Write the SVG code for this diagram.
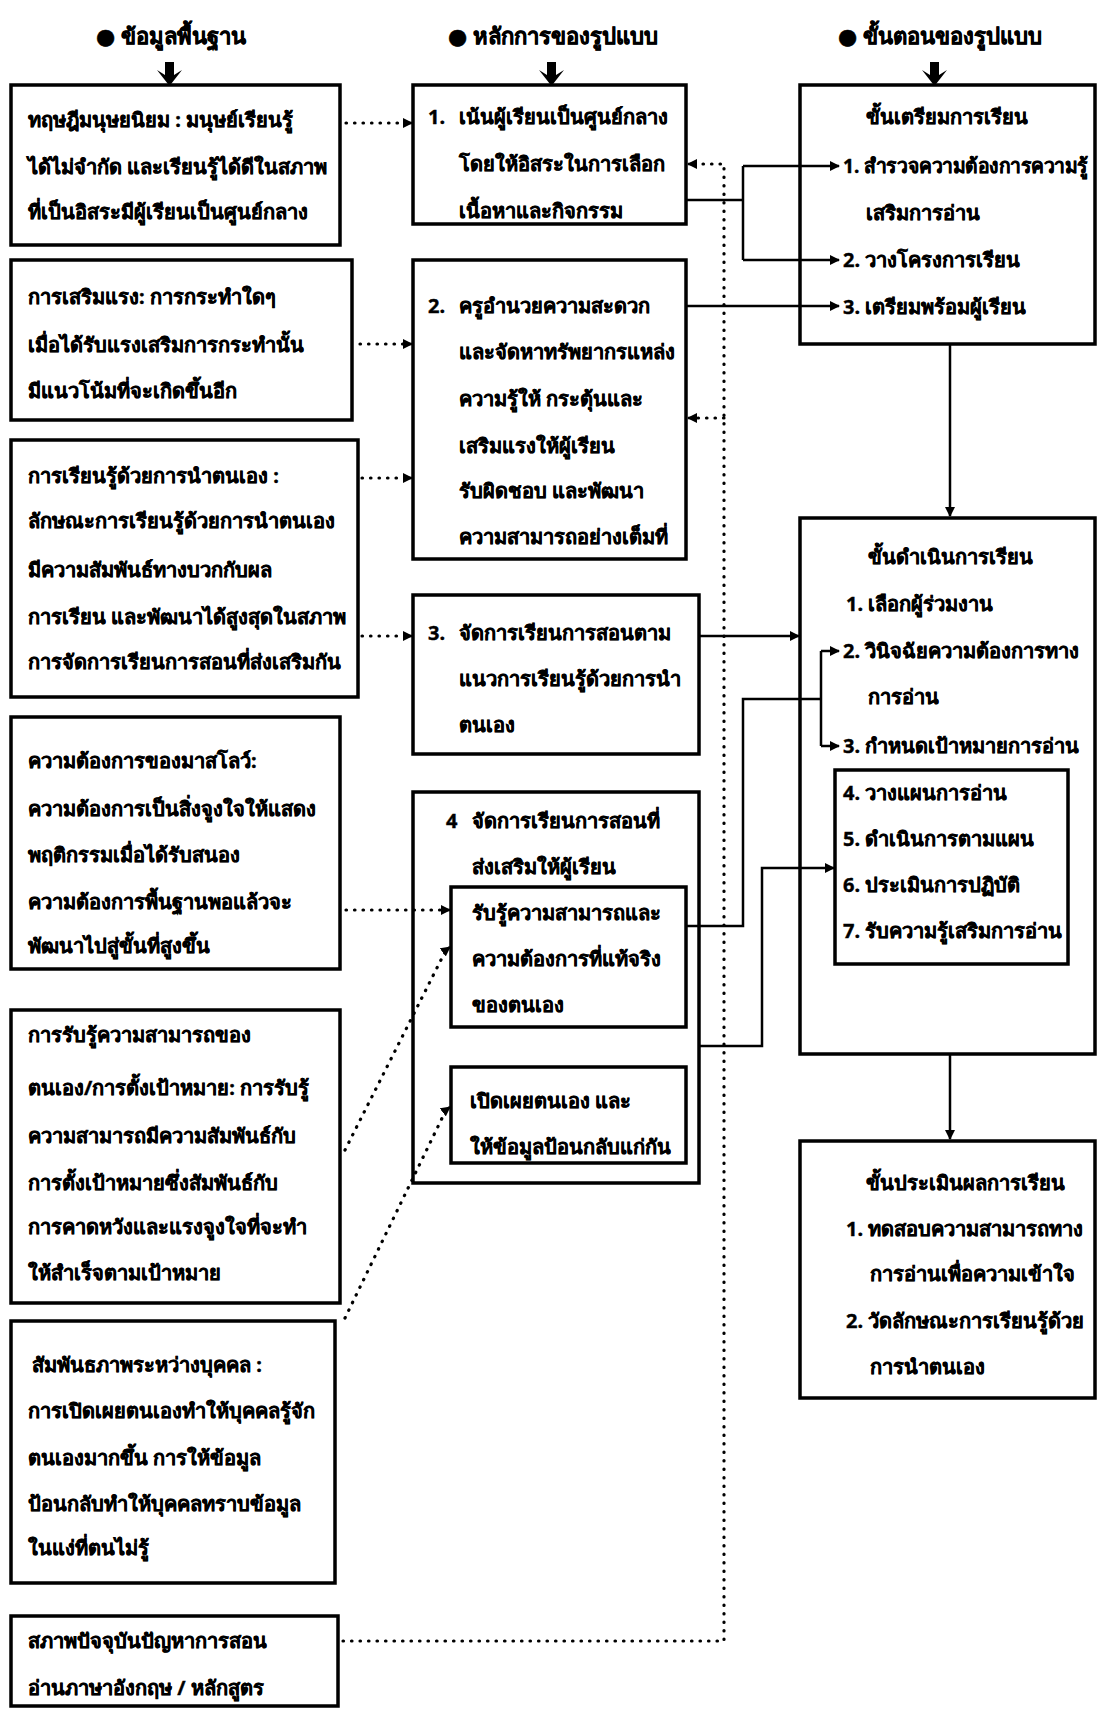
<svg xmlns="http://www.w3.org/2000/svg" width="1115" height="1712" viewBox="0 0 1115 1712">
<style>
.box{fill:none;stroke:#000;stroke-width:3.5}
.t{font-family:"Noto Sans","DejaVu Sans",sans-serif;font-weight:bold;font-size:20px;fill:#000;stroke:#000;stroke-width:0.4}
.h{font-family:"Noto Sans","DejaVu Sans",sans-serif;font-weight:bold;font-size:22px;fill:#000;stroke:#000;stroke-width:0.5;text-anchor:middle}
.c{text-anchor:middle}
.dot{fill:none;stroke:#000;stroke-width:3.2;stroke-dasharray:0.5 8;stroke-linecap:round}
.sol{fill:none;stroke:#000;stroke-width:2.5}
.big{fill:#000}
</style>
<defs>
<marker id="ah" viewBox="0 0 10 10" refX="9" refY="5" markerWidth="10" markerHeight="10" markerUnits="userSpaceOnUse" orient="auto">
<path d="M0,0 L10,5 L0,10 z" fill="#000"/>
</marker>
</defs>
<rect width="1115" height="1712" fill="#fff"/>

<g id="headers">
<text class="h" x="171" y="44">● ข้อมูลพื้นฐาน</text>
<text class="h" x="553" y="44">● หลักการของรูปแบบ</text>
<text class="h" x="940" y="44">● ขั้นตอนของรูปแบบ</text>
<path class="big" d="M165,62 h9 v13 l8,-5 l-12.5,16 l-12.5,-16 l8,5 z"/>
<path class="big" d="M547,62 h9 v13 l8,-5 l-12.5,16 l-12.5,-16 l8,5 z"/>
<path class="big" d="M930,62 h9 v13 l8,-5 l-12.5,16 l-12.5,-16 l8,5 z"/>
</g>

<g id="L1">
<rect class="box" x="11" y="85" width="329" height="160"/>
<text class="t" x="28" y="127">ทฤษฎีมนุษยนิยม : มนุษย์เรียนรู้</text>
<text class="t" x="28" y="174">ได้ไม่จำกัด และเรียนรู้ได้ดีในสภาพ</text>
<text class="t" x="28" y="219">ที่เป็นอิสระมีผู้เรียนเป็นศูนย์กลาง</text>
</g>
<g id="L2">
<rect class="box" x="11" y="260" width="341" height="160"/>
<text class="t" x="28" y="304">การเสริมแรง: การกระทำใดๆ</text>
<text class="t" x="28" y="352">เมื่อได้รับแรงเสริมการกระทำนั้น</text>
<text class="t" x="28" y="398">มีแนวโน้มที่จะเกิดขึ้นอีก</text>
</g>
<g id="L3">
<rect class="box" x="11" y="440" width="347" height="257"/>
<text class="t" x="28" y="483">การเรียนรู้ด้วยการนำตนเอง :</text>
<text class="t" x="28" y="528">ลักษณะการเรียนรู้ด้วยการนำตนเอง</text>
<text class="t" x="28" y="577">มีความสัมพันธ์ทางบวกกับผล</text>
<text class="t" x="28" y="624">การเรียน และพัฒนาได้สูงสุดในสภาพ</text>
<text class="t" x="28" y="669">การจัดการเรียนการสอนที่ส่งเสริมกัน</text>
</g>
<g id="L4">
<rect class="box" x="11" y="717" width="329" height="252"/>
<text class="t" x="28" y="768">ความต้องการของมาสโลว์:</text>
<text class="t" x="28" y="816">ความต้องการเป็นสิ่งจูงใจให้แสดง</text>
<text class="t" x="28" y="862">พฤติกรรมเมื่อได้รับสนอง</text>
<text class="t" x="28" y="909">ความต้องการพื้นฐานพอแล้วจะ</text>
<text class="t" x="28" y="953">พัฒนาไปสู่ขั้นที่สูงขึ้น</text>
</g>
<g id="L5">
<rect class="box" x="11" y="1010" width="329" height="293"/>
<text class="t" x="28" y="1042">การรับรู้ความสามารถของ</text>
<text class="t" x="28" y="1095">ตนเอง/การตั้งเป้าหมาย: การรับรู้</text>
<text class="t" x="28" y="1143">ความสามารถมีความสัมพันธ์กับ</text>
<text class="t" x="28" y="1190">การตั้งเป้าหมายซึ่งสัมพันธ์กับ</text>
<text class="t" x="28" y="1234">การคาดหวังและแรงจูงใจที่จะทำ</text>
<text class="t" x="28" y="1280">ให้สำเร็จตามเป้าหมาย</text>
</g>
<g id="L6">
<rect class="box" x="11" y="1321" width="324" height="262"/>
<text class="t" x="32" y="1372">สัมพันธภาพระหว่างบุคคล :</text>
<text class="t" x="28" y="1418">การเปิดเผยตนเองทำให้บุคคลรู้จัก</text>
<text class="t" x="28" y="1465">ตนเองมากขึ้น การให้ข้อมูล</text>
<text class="t" x="28" y="1511">ป้อนกลับทำให้บุคคลทราบข้อมูล</text>
<text class="t" x="28" y="1555">ในแง่ที่ตนไม่รู้</text>
</g>
<g id="L7">
<rect class="box" x="11" y="1616" width="327" height="90"/>
<text class="t" x="28" y="1648">สภาพปัจจุบันปัญหาการสอน</text>
<text class="t" x="28" y="1695">อ่านภาษาอังกฤษ / หลักสูตร</text>
</g>

<g id="M1">
<rect class="box" x="413" y="85" width="273" height="139"/>
<text class="t" x="428" y="124">1.</text>
<text class="t" x="459" y="124">เน้นผู้เรียนเป็นศูนย์กลาง</text>
<text class="t" x="459" y="171">โดยให้อิสระในการเลือก</text>
<text class="t" x="459" y="218">เนื้อหาและกิจกรรม</text>
</g>
<g id="M2">
<rect class="box" x="413" y="260" width="273" height="299"/>
<text class="t" x="428" y="313">2.</text>
<text class="t" x="459" y="313">ครูอำนวยความสะดวก</text>
<text class="t" x="459" y="359">และจัดหาทรัพยากรแหล่ง</text>
<text class="t" x="459" y="406">ความรู้ให้  กระตุ้นและ</text>
<text class="t" x="459" y="453">เสริมแรงให้ผู้เรียน</text>
<text class="t" x="459" y="498">รับผิดชอบ และพัฒนา</text>
<text class="t" x="459" y="544">ความสามารถอย่างเต็มที่</text>
</g>
<g id="M3">
<rect class="box" x="413" y="595" width="286" height="159"/>
<text class="t" x="428" y="640">3.</text>
<text class="t" x="459" y="640">จัดการเรียนการสอนตาม</text>
<text class="t" x="459" y="686">แนวการเรียนรู้ด้วยการนำ</text>
<text class="t" x="459" y="732">ตนเอง</text>
</g>
<g id="M4">
<rect class="box" x="413" y="792" width="286" height="391"/>
<text class="t" x="446" y="828">4</text>
<text class="t" x="472" y="828">จัดการเรียนการสอนที่</text>
<text class="t" x="472" y="874">ส่งเสริมให้ผู้เรียน</text>
</g>
<g id="M4a">
<rect class="box" x="451" y="887" width="235" height="140"/>
<text class="t" x="472" y="920">รับรู้ความสามารถและ</text>
<text class="t" x="472" y="966">ความต้องการที่แท้จริง</text>
<text class="t" x="472" y="1012">ของตนเอง</text>
</g>
<g id="M4b">
<rect class="box" x="451" y="1067" width="235" height="96"/>
<text class="t" x="470" y="1108">เปิดเผยตนเอง  และ</text>
<text class="t" x="470" y="1154">ให้ข้อมูลป้อนกลับแก่กัน</text>
</g>

<g id="R1">
<rect class="box" x="800" y="85" width="295" height="259"/>
<text class="t c" x="947" y="124">ขั้นเตรียมการเรียน</text>
<text class="t" x="843" y="173" textLength="245" lengthAdjust="spacingAndGlyphs">1. สำรวจความต้องการความรู้</text>
<text class="t" x="866" y="220">เสริมการอ่าน</text>
<text class="t" x="843" y="267">2. วางโครงการเรียน</text>
<text class="t" x="843" y="314">3. เตรียมพร้อมผู้เรียน</text>
</g>
<g id="R2">
<rect class="box" x="800" y="518" width="295" height="536"/>
<text class="t c" x="950" y="564">ขั้นดำเนินการเรียน</text>
<text class="t" x="846" y="611">1. เลือกผู้ร่วมงาน</text>
<text class="t" x="843" y="658">2. วินิจฉัยความต้องการทาง</text>
<text class="t" x="868" y="704">การอ่าน</text>
<text class="t" x="843" y="753">3. กำหนดเป้าหมายการอ่าน</text>
</g>
<g id="R2a">
<rect class="box" x="835" y="770" width="233" height="194"/>
<text class="t" x="843" y="800">4. วางแผนการอ่าน</text>
<text class="t" x="843" y="846">5. ดำเนินการตามแผน</text>
<text class="t" x="843" y="892">6. ประเมินการปฏิบัติ</text>
<text class="t" x="843" y="938">7. รับความรู้เสริมการอ่าน</text>
</g>
<g id="R3">
<rect class="box" x="800" y="1141" width="295" height="257"/>
<text class="t c" x="965" y="1190">ขั้นประเมินผลการเรียน</text>
<text class="t" x="846" y="1236">1. ทดสอบความสามารถทาง</text>
<text class="t" x="870" y="1281">การอ่านเพื่อความเข้าใจ</text>
<text class="t" x="846" y="1328">2. วัดลักษณะการเรียนรู้ด้วย</text>
<text class="t" x="870" y="1374">การนำตนเอง</text>
</g>

<g id="connectors">
<path class="dot" d="M346,123 H404"/>
<path class="dot" d="M360,344 H404"/>
<path class="dot" d="M362,478 H404"/>
<path class="dot" d="M362,636 H404"/>
<path class="dot" d="M346,910 H442"/>
<path class="dot" d="M345,1150 L446,950"/>
<path class="dot" d="M345,1318 L446,1110"/>
<path class="dot" d="M343,1641 H724 V164 H696"/>
<path class="dot" d="M724,418 H696"/>
<g marker-end="url(#ah)">
<path class="sol" d="M404,123 H412"/>
<path class="sol" d="M404,344 H412"/>
<path class="sol" d="M404,478 H412"/>
<path class="sol" d="M404,636 H412"/>
<path class="sol" d="M442,910 H450"/>
<path class="sol" d="M446,950 L450,947"/>
<path class="sol" d="M446,1110 L450,1107"/>
<path class="sol" d="M696,164 H688"/>
<path class="sol" d="M696,418 H688"/>
<path class="sol" d="M743,166 H839"/>
<path class="sol" d="M743,260 H839"/>
<path class="sol" d="M686,306 H839"/>
<path class="sol" d="M950,344 V516"/>
<path class="sol" d="M699,636 H799"/>
<path class="sol" d="M821,651 H839"/>
<path class="sol" d="M821,746 H839"/>
<path class="sol" d="M699,1046 H762 V868 H834"/>
<path class="sol" d="M950,1054 V1139"/>
</g>
<path class="sol" d="M686,200 H743 M743,166 V260"/>
<path class="sol" d="M686,926 H743 V699 H821 M821,651 V746"/>
</g>
</svg>
